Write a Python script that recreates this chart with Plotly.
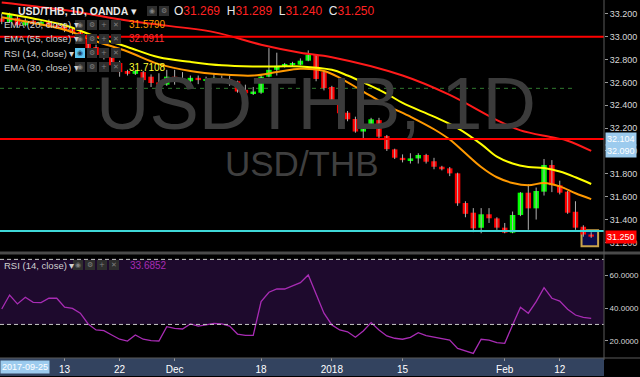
import plotly.graph_objects as go

# ---------------- data ----------------
dates = [
    "2017-11-01", "2017-11-02", "2017-11-03", "2017-11-06", "2017-11-07", "2017-11-08", "2017-11-09", "2017-11-10",
    "2017-11-13", "2017-11-14", "2017-11-15", "2017-11-16", "2017-11-17", "2017-11-20", "2017-11-21", "2017-11-22",
    "2017-11-23", "2017-11-24", "2017-11-27", "2017-11-28", "2017-11-29", "2017-11-30", "2017-12-01", "2017-12-04",
    "2017-12-05", "2017-12-06", "2017-12-07", "2017-12-08", "2017-12-11", "2017-12-12", "2017-12-13", "2017-12-14",
    "2017-12-15", "2017-12-18", "2017-12-19", "2017-12-20", "2017-12-21", "2017-12-22", "2017-12-26", "2017-12-27",
    "2017-12-28", "2017-12-29", "2018-01-02", "2018-01-03", "2018-01-04", "2018-01-05", "2018-01-08", "2018-01-09",
    "2018-01-10", "2018-01-11", "2018-01-12", "2018-01-15", "2018-01-16", "2018-01-17", "2018-01-18", "2018-01-19",
    "2018-01-22", "2018-01-23", "2018-01-24", "2018-01-25", "2018-01-26", "2018-01-29", "2018-01-30", "2018-01-31",
    "2018-02-01", "2018-02-02", "2018-02-05", "2018-02-06", "2018-02-07", "2018-02-08", "2018-02-09", "2018-02-12",
    "2018-02-13", "2018-02-14", "2018-02-15", "2018-02-16",
]
opens = [
    33.160, 33.130, 33.165, 33.100, 33.140, 33.110, 33.130, 33.100,
    33.100, 33.067, 33.041, 33.015, 32.910, 32.840, 32.820, 32.770,
    32.700, 32.675, 32.690, 32.650, 32.600, 32.580, 32.650, 32.625,
    32.610, 32.640, 32.615, 32.620, 32.635, 32.630, 32.610, 32.535,
    32.505, 32.510, 32.650, 32.710, 32.745, 32.755, 32.755, 32.790,
    32.840, 32.690, 32.560, 32.430, 32.335, 32.280, 32.170, 32.227,
    32.270, 32.131, 32.014, 31.940, 31.920, 31.935, 31.965, 31.910,
    31.862, 31.848, 31.804, 31.545, 31.460, 31.328, 31.446, 31.410,
    31.329, 31.285, 31.440, 31.635, 31.498, 31.644, 31.877, 31.700,
    31.644, 31.468, 31.337, 31.269,
]
highs = [
    33.200, 33.210, 33.180, 33.160, 33.150, 33.140, 33.150, 33.120,
    33.120, 33.080, 33.050, 33.030, 32.930, 32.860, 32.840, 32.790,
    32.710, 32.710, 32.700, 32.670, 32.680, 32.710, 32.710, 32.690,
    32.660, 32.660, 32.650, 32.680, 32.660, 32.660, 32.615, 32.580,
    32.560, 32.670, 32.900, 32.860, 32.770, 32.780, 32.810, 32.880,
    32.845, 32.700, 32.570, 32.440, 32.350, 32.300, 32.270, 32.290,
    32.290, 32.140, 32.020, 31.970, 31.980, 31.980, 31.975, 31.940,
    31.870, 31.860, 31.810, 31.560, 31.500, 31.500, 31.500, 31.420,
    31.370, 31.470, 31.640, 31.710, 31.680, 31.930, 31.920, 31.740,
    31.650, 31.560, 31.350, 31.289,
]
lows = [
    33.110, 33.120, 33.080, 33.090, 33.100, 33.090, 33.080, 33.070,
    33.040, 33.020, 32.990, 32.880, 32.820, 32.800, 32.740, 32.650,
    32.660, 32.665, 32.600, 32.560, 32.506, 32.570, 32.580, 32.600,
    32.580, 32.585, 32.600, 32.600, 32.600, 32.570, 32.510, 32.460,
    32.490, 32.500, 32.645, 32.660, 32.730, 32.740, 32.750, 32.785,
    32.610, 32.530, 32.420, 32.270, 32.260, 32.160, 32.100, 32.220,
    32.100, 32.000, 31.930, 31.900, 31.890, 31.890, 31.890, 31.840,
    31.830, 31.780, 31.520, 31.420, 31.290, 31.280, 31.370, 31.310,
    31.280, 31.280, 31.430, 31.310, 31.400, 31.610, 31.640, 31.620,
    31.450, 31.310, 31.250, 31.240,
]
closes = [
    33.130, 33.190, 33.100, 33.140, 33.110, 33.130, 33.090, 33.080,
    33.058, 33.032, 33.006, 32.900, 32.840, 32.813, 32.750, 32.690,
    32.675, 32.700, 32.620, 32.595, 32.580, 32.650, 32.620, 32.610,
    32.640, 32.620, 32.630, 32.640, 32.620, 32.600, 32.520, 32.505,
    32.520, 32.650, 32.710, 32.745, 32.755, 32.770, 32.790, 32.840,
    32.630, 32.550, 32.430, 32.330, 32.277, 32.170, 32.227, 32.277,
    32.125, 32.016, 31.941, 31.920, 31.935, 31.965, 31.906, 31.862,
    31.840, 31.804, 31.542, 31.450, 31.323, 31.446, 31.411, 31.329,
    31.285, 31.440, 31.635, 31.498, 31.650, 31.877, 31.700, 31.635,
    31.460, 31.329, 31.269, 31.250,
]
rsi = [
    39.5, 48.1, 42.6, 46.7, 43.6, 43.4, 46.1, 46.1,
    40.6, 39.9, 36.9, 30.3, 26.6, 26.2, 23.5, 20.9,
    19.8, 23.5, 20.9, 20.0, 19.8, 28.6, 27.6, 27.2,
    30.3, 29.0, 29.7, 30.7, 30.3, 29.0, 24.1, 23.3,
    23.3, 44.0, 49.8, 51.8, 51.8, 53.7, 55.7, 60.4,
    48.7, 36.9, 29.7, 26.6, 25.5, 22.1, 26.0, 31.1,
    26.6, 22.9, 21.5, 20.9, 22.1, 24.9, 23.1, 22.1,
    21.5, 20.4, 15.3, 13.7, 12.2, 20.9, 20.4, 18.8,
    18.4, 29.7, 40.6, 36.9, 44.0, 52.6, 46.1, 44.4,
    39.3, 35.8, 34.4, 33.7,
]
ema20_dates = ["2017-11-01", "2017-11-07", "2017-11-13", "2017-11-17", "2017-11-23", "2017-11-29", "2017-12-05",
               "2017-12-11", "2017-12-15", "2017-12-20", "2017-12-26", "2017-12-29", "2018-01-03", "2018-01-08",
               "2018-01-11", "2018-01-16", "2018-01-19", "2018-01-23", "2018-01-25", "2018-01-29", "2018-01-31",
               "2018-02-02", "2018-02-06", "2018-02-08", "2018-02-12", "2018-02-14", "2018-02-16"]
ema20_vals = [33.17, 33.12, 33.06, 32.96, 32.87, 32.76, 32.70,
              32.67, 32.66, 32.69, 32.72, 32.70, 32.64, 32.52,
              32.40, 32.30, 32.19, 32.10, 31.98, 31.86, 31.77,
              31.72, 31.70, 31.72, 31.69, 31.63, 31.579]
ema30_dates = ["2017-11-01", "2017-11-07", "2017-11-13", "2017-11-17", "2017-11-23", "2017-11-29", "2017-12-05",
               "2017-12-11", "2017-12-15", "2017-12-20", "2017-12-26", "2018-01-02", "2018-01-04", "2018-01-08",
               "2018-01-11", "2018-01-15", "2018-01-19", "2018-01-24", "2018-01-29", "2018-01-31", "2018-02-02",
               "2018-02-06", "2018-02-08", "2018-02-12", "2018-02-14", "2018-02-16"]
ema30_vals = [33.207, 33.16, 33.10, 33.00, 32.91, 32.82, 32.78,
              32.75, 32.74, 32.74, 32.74, 32.71, 32.66, 32.60,
              32.50, 32.42, 32.30, 32.20, 32.06, 31.95, 31.89,
              31.86, 31.85, 31.82, 31.77, 31.7108]
ema55_dates = ["2017-11-01", "2017-11-13", "2017-11-24", "2017-12-08", "2017-12-18", "2017-12-26", "2018-01-02",
               "2018-01-15", "2018-01-23", "2018-01-31", "2018-02-05", "2018-02-09", "2018-02-13", "2018-02-16"]
ema55_vals = [33.30, 33.233, 33.13, 33.04, 32.93, 32.86, 32.82,
              32.66, 32.49, 32.27, 32.18, 32.12, 32.09, 32.00]
level_red = [33.000, 32.104]
level_cyan = [31.300]
level_green_dash = [32.548]
price_ticks = [31.2, 31.4, 31.6, 31.8, 32.0, 32.2, 32.4, 32.6, 32.8, 33.0, 33.2]
rsi_ticks = [20, 40, 60]
rsi_bands = [30, 70]
time_tick_dates = ["2017-11-13", "2017-11-22", "2017-12-01", "2017-12-18", "2018-01-02", "2018-01-15",
                   "2018-02-01", "2018-02-12"]
time_tick_text = ["13", "22", "Dec", "18", "2018", "15", "Feb", "12"]

# ---------------- geometry helpers ----------------
W, H = 640, 377
PLOT_W = 604
MB = 20
PLOT_H = H - MB


def xp(px):
    return px / PLOT_W


def yp(py):
    return (PLOT_H - py) / PLOT_H


GREEN = "#00ff00"
RED = "#ff0000"
FONT = "Liberation Sans"

n = len(dates)
body_base = [min(o, c) for o, c in zip(opens, closes)]
body_h = [abs(c - o) for o, c in zip(opens, closes)]
body_col = [GREEN if c >= o else RED for o, c in zip(opens, closes)]
wx, wy = [], []
for d, lo, hi in zip(dates, lows, highs):
    wx += [d, d, None]
    wy += [lo, hi, None]

fig = go.Figure()
fig.add_trace(go.Scatter(x=wx, y=wy, mode="lines", line=dict(color="#b0b0b0", width=1),
                         xaxis="x", yaxis="y", hoverinfo="skip"))
fig.add_trace(go.Bar(x=dates, y=body_h, base=body_base, marker=dict(color=body_col, line=dict(width=0)),
                     xaxis="x", yaxis="y"))
fig.add_trace(go.Scatter(x=ema55_dates, y=ema55_vals, mode="lines", line=dict(color="#ff1a1a", width=2, shape="spline"),
                         xaxis="x", yaxis="y"))
fig.add_trace(go.Scatter(x=ema20_dates, y=ema20_vals, mode="lines", line=dict(color="#ff9900", width=2, shape="spline"),
                         xaxis="x", yaxis="y"))
fig.add_trace(go.Scatter(x=ema30_dates, y=ema30_vals, mode="lines", line=dict(color="#ffff00", width=2, shape="spline"),
                         xaxis="x", yaxis="y"))
fig.add_trace(go.Scatter(x=dates, y=rsi, mode="lines", line=dict(color="#a82cb4", width=1.3),
                         xaxis="x2", yaxis="y2"))

shapes = []
shapes.append(dict(type="rect", xref="paper", yref="y2", x0=0, x1=1, y0=rsi_bands[0], y1=rsi_bands[1],
                   fillcolor="#1e0a2d", line=dict(width=0), layer="below"))
for b in rsi_bands:
    shapes.append(dict(type="line", xref="paper", yref="y2", x0=0, x1=1, y0=b, y1=b,
                       line=dict(color="#c8c8c8", width=1, dash="4px,3px")))
for lv in level_red:
    shapes.append(dict(type="line", xref="paper", yref="y", x0=0, x1=1, y0=lv, y1=lv,
                       line=dict(color="#ff0000", width=2)))
for lv in level_cyan:
    shapes.append(dict(type="line", xref="paper", yref="y", x0=0, x1=1, y0=lv, y1=lv,
                       line=dict(color="#3fd8d8", width=2)))
for lv in level_green_dash:
    shapes.append(dict(type="line", xref="paper", yref="y", x0=0, x1=xp(575), y0=lv, y1=lv,
                       line=dict(color="#2f7a2f", width=1, dash="4px,4px"), layer="below"))
shapes.append(dict(type="rect", xref="x", yref="y", x0=n - 2.23, x1=n - 0.12, y0=31.167, y1=31.307,
                   fillcolor="#0b0b4a", line=dict(color="#c9a24a", width=2), layer="below"))
shapes.append(dict(type="line", xref="paper", yref="paper", x0=0, x1=W / PLOT_W, y0=yp(253), y1=yp(253),
                   line=dict(color="#4a4a4a", width=3)))
shapes.append(dict(type="line", xref="paper", yref="paper", x0=1, x1=1, y0=yp(360), y1=1,
                   line=dict(color="#5a5a5a", width=1)))
shapes.append(dict(type="rect", xref="paper", yref="paper", x0=0, x1=1, y0=yp(376), y1=yp(358),
                   fillcolor="#33435f", line=dict(width=0), layer="below"))
shapes.append(dict(type="line", xref="paper", yref="paper", x0=0, x1=W / PLOT_W, y0=yp(358), y1=yp(358),
                   line=dict(color="#5a5a5a", width=1)))

ann = []
ann.append(dict(text="USDTHB, 1D", x=xp(316), y=yp(104), xref="paper", yref="paper", showarrow=False,
                font=dict(family=FONT, size=74, color="#3b3b3b"), xanchor="center", yanchor="middle"))
ann.append(dict(text="USD/THB", x=xp(302), y=yp(163), xref="paper", yref="paper", showarrow=False,
                font=dict(family=FONT, size=35, color="#3f3f3f"), xanchor="center", yanchor="middle"))
ann.append(dict(text="<b>USD/THB, 1D, OANDA</b> \u25be", x=xp(16), y=yp(11), xref="paper", yref="paper",
                showarrow=False, xanchor="left", yanchor="middle", font=dict(family=FONT, size=10.5, color="#e8e8e8")))
ann.append(dict(text="O<span style='color:#ff2222'>31.269</span>  H<span style='color:#ff2222'>31.289</span>  "
                     "L<span style='color:#ff2222'>31.240</span>  C<span style='color:#ff2222'>31.250</span>",
                x=xp(172), y=yp(11), xref="paper", yref="paper", showarrow=False, xanchor="left", yanchor="middle",
                font=dict(family=FONT, size=12, color="#e8e8e8")))
leg_rows = [("EMA (20, close) \u25be", 25, "31.5790", "#ff9900"),
            ("EMA (55, close) \u25be", 39, "32.0911", "#ff3030"),
            ("RSI (14, close) \u25be", 53, "", ""),
            ("EMA (30, close) \u25be", 67, "31.7108", "#ffff33")]
for txt, py, val, col in leg_rows:
    ann.append(dict(text=txt, x=xp(2), y=yp(py), xref="paper", yref="paper", showarrow=False, xanchor="left",
                    yanchor="middle", font=dict(family=FONT, size=9.5, color="#d0d0d0")))
    if val:
        ann.append(dict(text=val, x=xp(127), y=yp(py), xref="paper", yref="paper", showarrow=False,
                        xanchor="left", yanchor="middle", font=dict(family=FONT, size=10, color=col)))
ann.append(dict(text="RSI (14, close) \u25be", x=xp(2), y=yp(265), xref="paper", yref="paper", showarrow=False,
                xanchor="left", yanchor="middle", font=dict(family=FONT, size=9.5, color="#d0d0d0")))
ann.append(dict(text="33.6852", x=xp(128), y=yp(265), xref="paper", yref="paper", showarrow=False,
                xanchor="left", yanchor="middle", font=dict(family=FONT, size=10, color="#a82cb4")))
glyphs = ["\u25c9", "\u2699", "+", "\u2715"]
icon_rows = [(147, 11, 2), (75, 25, 4), (75, 39, 4), (75, 53, 4), (75, 67, 4), (73, 265, 4)]
for px0, py, cnt in icon_rows:
    for k in range(cnt):
        bx = px0 + 12 * k
        fillc = "#5bc4ef" if (py == 53 and k == 0) else "#2e2e2e"
        shapes.append(dict(type="rect", xref="paper", yref="paper", x0=xp(bx), x1=xp(bx + 10), y0=yp(py + 5),
                           y1=yp(py - 5), fillcolor=fillc, line=dict(width=0)))
        ann.append(dict(text=glyphs[k], x=xp(bx + 5), y=yp(py), xref="paper", yref="paper", showarrow=False,
                        xanchor="center", yanchor="middle",
                        font=dict(family="DejaVu Sans", size=7, color="#1a3a5a" if fillc == "#5bc4ef" else "#808080")))
for txt, py, bg in [("32.104", 139, "#9ccbee"), ("32.090", 151, "#9ccbee"), ("31.250", 237, "#ff0000")]:
    ann.append(dict(text=txt, x=xp(605), y=yp(py), xref="paper", yref="paper", showarrow=False, xanchor="left",
                    yanchor="middle", bgcolor=bg, borderpad=1, font=dict(family=FONT, size=9, color="#ffffff")))
ann.append(dict(text="2017-09-25", x=xp(0), y=yp(367), xref="paper", yref="paper", showarrow=False,
                xanchor="left", yanchor="middle", bgcolor="#9ccbee", borderpad=1,
                font=dict(family=FONT, size=9, color="#ffffff")))

xr = [-0.22, 76.63]
fig.update_layout(
    width=W, height=H, margin=dict(l=0, r=W - PLOT_W, t=0, b=MB),
    paper_bgcolor="#000000", plot_bgcolor="#000000", showlegend=False, bargap=0.3,
    xaxis=dict(type="category", categoryorder="array", categoryarray=dates, range=xr, domain=[0, 1],
               anchor="y", showticklabels=False, showgrid=False, zeroline=False, showline=False, ticks=""),
    xaxis2=dict(type="category", categoryorder="array", categoryarray=dates, range=xr, domain=[0, 1],
                anchor="y2", matches="x", showgrid=False, zeroline=False, showline=False,
                tickmode="array", tickvals=time_tick_dates, ticktext=time_tick_text, ticks="outside",
                ticklen=3, tickcolor="#9a9a9a", tickfont=dict(family=FONT, size=10, color="#ffffff")),
    yaxis=dict(domain=[yp(252), 1], range=[31.116, 33.321], side="right", anchor="x", showgrid=False,
               zeroline=False, tickmode="array", tickvals=price_ticks, tickformat=".3f", ticks="outside",
               ticklen=3, tickcolor="#9a9a9a", tickfont=dict(family=FONT, size=9, color="#d8d8d8")),
    yaxis2=dict(domain=[0, yp(255)], range=[9.97, 72.7], side="right", anchor="x2", showgrid=False,
                zeroline=False, tickmode="array", tickvals=rsi_ticks, tickformat=".4f", ticks="outside",
                ticklen=3, tickcolor="#9a9a9a", tickfont=dict(family=FONT, size=8, color="#d8d8d8")),
    shapes=shapes, annotations=ann,
)
fig.write_html("out.html", config={"displayModeBar": False},
               post_script="document.body.style.margin='0';document.body.style.overflow='hidden';")
